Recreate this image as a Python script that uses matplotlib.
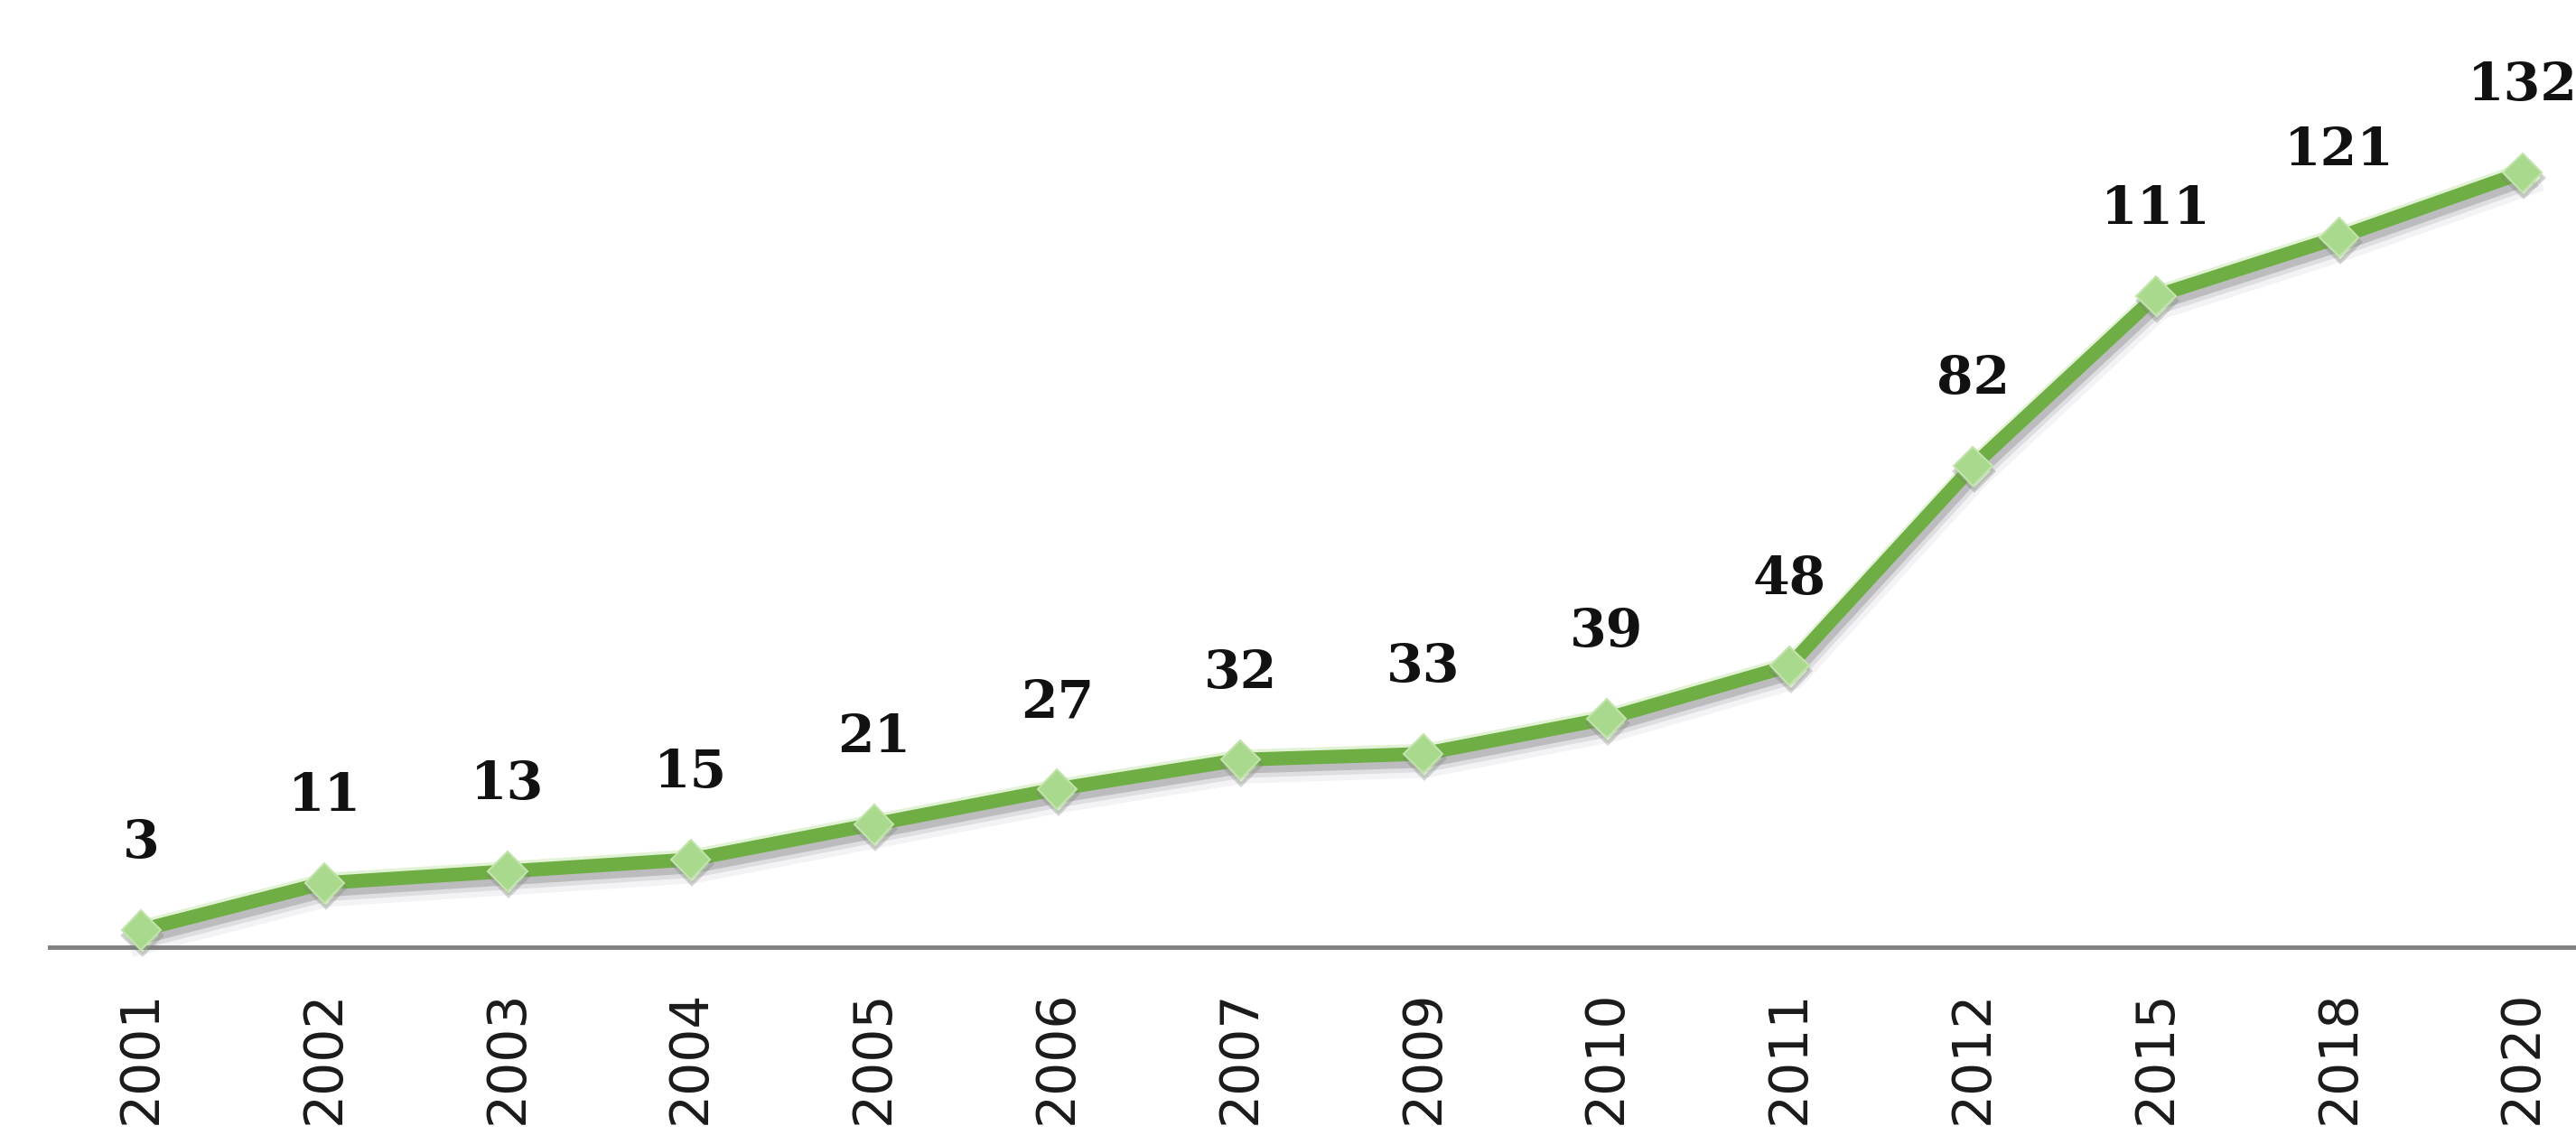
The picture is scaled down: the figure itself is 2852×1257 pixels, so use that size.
import matplotlib
matplotlib.use("Agg")
import matplotlib.pyplot as plt
import matplotlib.patheffects as pe

years = ["2001", "2002", "2003", "2004", "2005", "2006", "2007",
         "2009", "2010", "2011", "2012", "2015", "2018", "2020"]
values = [3, 11, 13, 15, 21, 27, 32, 33, 39, 48, 82, 111, 121, 132]

W, H = 2852, 1257
fig = plt.figure(figsize=(W / 100, H / 100), dpi=100)
ax = fig.add_axes([55 / W, 0.1651, 2839 / W, 0.8349])

x = list(range(len(years)))
shadow = [
    pe.Stroke(offset=(2, -7), linewidth=24, foreground="#8a86a0", alpha=0.10),
    pe.Stroke(offset=(2, -6), linewidth=17, foreground="#7f7f8f", alpha=0.18),
    pe.Stroke(offset=(2, -5), linewidth=12, foreground="#707070", alpha=0.30),
    pe.Stroke(offset=(0, 2.5), linewidth=11, foreground="#cfeab8", alpha=0.6),
    pe.Normal(),
]
ax.plot(x, values, color="#6fad45", linewidth=11, solid_joinstyle="round",
        clip_on=False, zorder=3, path_effects=shadow)
ax.plot(x, values, linestyle="none", marker="D", markersize=22,
        markerfacecolor="#a9d98c", markeredgecolor="#c2e4ac", markeredgewidth=1.5,
        clip_on=False, zorder=4,
        path_effects=[pe.Stroke(offset=(1, -4), linewidth=3, foreground="#777777", alpha=0.3),
                      pe.Normal()])

for xi, v in zip(x, values):
    ax.annotate(str(v), (xi, v), xytext=(0, 69), textcoords="offset points",
                ha="center", va="center", fontsize=42, fontweight="bold",
                family="DejaVu Serif", color="#111111", annotation_clip=False)

ax.set_xlim(-0.5, 13.5)
ax.set_ylim(0, 161.4)
ax.set_xticks(x)
ax.set_xticklabels(years, rotation=90, fontsize=42, family="DejaVu Sans", color="#1a1a1a")
ax.tick_params(axis="x", length=0, pad=34)
ax.set_yticks([])
for s in ["left", "right", "top"]:
    ax.spines[s].set_visible(False)
ax.spines["bottom"].set_color("#808080")
ax.spines["bottom"].set_linewidth(3.5)
ax.patch.set_alpha(0)

fig.savefig("out.png", dpi=100, facecolor="white")
